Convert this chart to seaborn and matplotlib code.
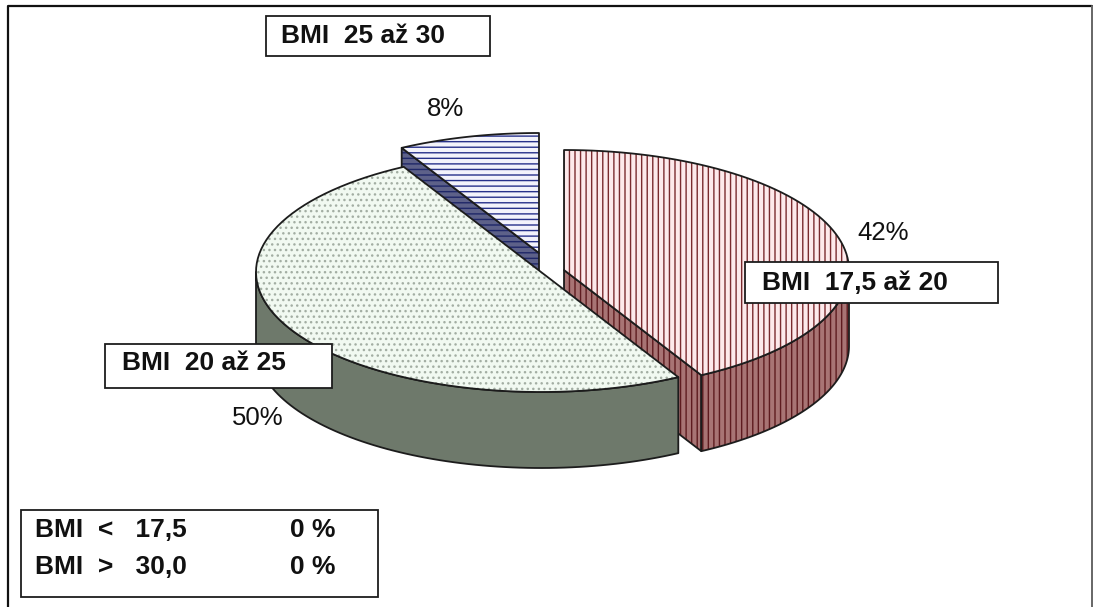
"""3D-style pie of BMI groups, drawn on a pixel canvas."""

import matplotlib

matplotlib.use("Agg")

import matplotlib.pyplot as plt
import numpy as np
import seaborn as sns
from matplotlib.patches import Polygon, Rectangle

# data
categories = ["BMI  17,5 až 20", "BMI  20 až 25", "BMI  25 až 30"]
shares = [42, 50, 8]
other_labels = ["BMI  <   17,5", "BMI  >   30,0"]
other_shares = [0, 0]

# style per slice: top face, side face, hatch, hatch colour
top_colors = ["#fde9eb", "#f1f9f1", "#f3f3fb"]
side_colors = ["#a87474", "#6e796b", "#5d6189"]
hatches = ["|||", "...", "---"]
hatch_colors = ["#7a2a2e", "#a3aea3", "#27318a"]
side_hatch_colors = ["#5e1b1f", None, "#1f2768"]
explode = [(23, -2), (0, 0), (-2, -19)]

# label boxes (x0, y0, x1, y1) and text anchors, pixel space
label_boxes = [(745, 262, 998, 303), (105, 344, 332, 388), (266, 16, 490, 56)]
label_text_xy = [(762, 283), (122, 363), (281, 36)]
pct_xy = [(883, 233), (258, 418), (446, 109)]

W, H = 1093, 607
CX, CY, A, B, DEPTH = 541, 272, 285, 120, 76
EDGE = "#1c1c1c"

sns.set_theme(style="white")
plt.rcParams["font.family"] = ["Liberation Sans", "DejaVu Sans"]
plt.rcParams["hatch.linewidth"] = 1.0


def arc(cx, cy, t0, t1, dy=0.0, n=80):
    t = np.radians(np.linspace(t0, t1, n))
    return np.column_stack([cx + A * np.sin(t), cy - B * np.cos(t) + dy])


def draw_face(ax, pts, face, hatch=None, hcolor=None, z=1):
    ax.add_patch(Polygon(pts, closed=True, facecolor=face, edgecolor="none", zorder=z))
    if hatch and hcolor:
        ax.add_patch(Polygon(pts, closed=True, fill=False, hatch=hatch,
                             edgecolor=hcolor, linewidth=0, zorder=z))
    ax.add_patch(Polygon(pts, closed=True, fill=False, edgecolor=EDGE,
                         linewidth=1.3, joinstyle="round", zorder=z))


fig = plt.figure(figsize=(W / 100, H / 100), dpi=100)
ax = fig.add_axes([0, 0, 1, 1])
ax.set_xlim(0, W)
ax.set_ylim(H, 0)
ax.axis("off")

# slice angles, clockwise from 12 o'clock
ends = np.cumsum(shares) / np.sum(shares) * 360
starts = np.concatenate([[0], ends[:-1]])
mids = (starts + ends) / 2
order = np.argsort(-np.cos(np.radians(mids)))  # back to front

z = 1
for i in order:
    t0, t1 = starts[i], ends[i]
    cx, cy = CX + explode[i][0], CY + explode[i][1]
    # radial cut faces turned to the viewer
    for t, visible in ((t0, np.sin(np.radians(t0)) < -1e-6), (t1, np.sin(np.radians(t1)) > 1e-6)):
        if visible:
            p = arc(cx, cy, t, t, n=1)[0]
            quad = [(cx, cy), tuple(p), (p[0], p[1] + DEPTH), (cx, cy + DEPTH)]
            draw_face(ax, quad, side_colors[i], hatches[i], side_hatch_colors[i], z)
            z += 1
    # front part of the outer wall
    lo, hi = max(t0, 90), min(t1, 270)
    if hi > lo:
        top = arc(cx, cy, lo, hi)
        bot = arc(cx, cy, lo, hi, dy=DEPTH)[::-1]
        draw_face(ax, np.vstack([top, bot]), side_colors[i], hatches[i], side_hatch_colors[i], z)
        z += 1
    # top face
    pts = np.vstack([[cx, cy], arc(cx, cy, t0, t1)])
    draw_face(ax, pts, top_colors[i], hatches[i], hatch_colors[i], z)
    z += 1

# category boxes and percentages
for name, share, box, txy, pxy in zip(categories, shares, label_boxes, label_text_xy, pct_xy):
    x0, y0, x1, y1 = box
    ax.add_patch(Rectangle((x0, y0), x1 - x0, y1 - y0, facecolor="white",
                           edgecolor=EDGE, linewidth=1.3, zorder=50))
    ax.text(*txy, name, fontsize=19, fontweight="bold", ha="left", va="center",
            color="#111111", zorder=51)
    ax.text(*pxy, f"{share}%", fontsize=18.5, ha="center", va="center",
            color="#111111", zorder=51)

# box for the empty groups
ax.add_patch(Rectangle((21, 510), 357, 87, facecolor="white", edgecolor=EDGE,
                       linewidth=1.3, zorder=50))
for k, (name, share) in enumerate(zip(other_labels, other_shares)):
    y = 530 + 37 * k
    ax.text(35, y, name, fontsize=19, fontweight="bold", ha="left", va="center",
            color="#111111", zorder=51)
    ax.text(290, y, f"{share} %", fontsize=19, fontweight="bold", ha="left", va="center",
            color="#111111", zorder=51)

# chart area frame
ax.plot([8, 8, 1092], [H + 5, 6, 6], color="#111111", linewidth=1.6, zorder=60)
ax.plot([1092, 1092], [6, H + 5], color="#666666", linewidth=1.4, zorder=60)

fig.savefig("out.png", dpi=100)
plt.close(fig)
